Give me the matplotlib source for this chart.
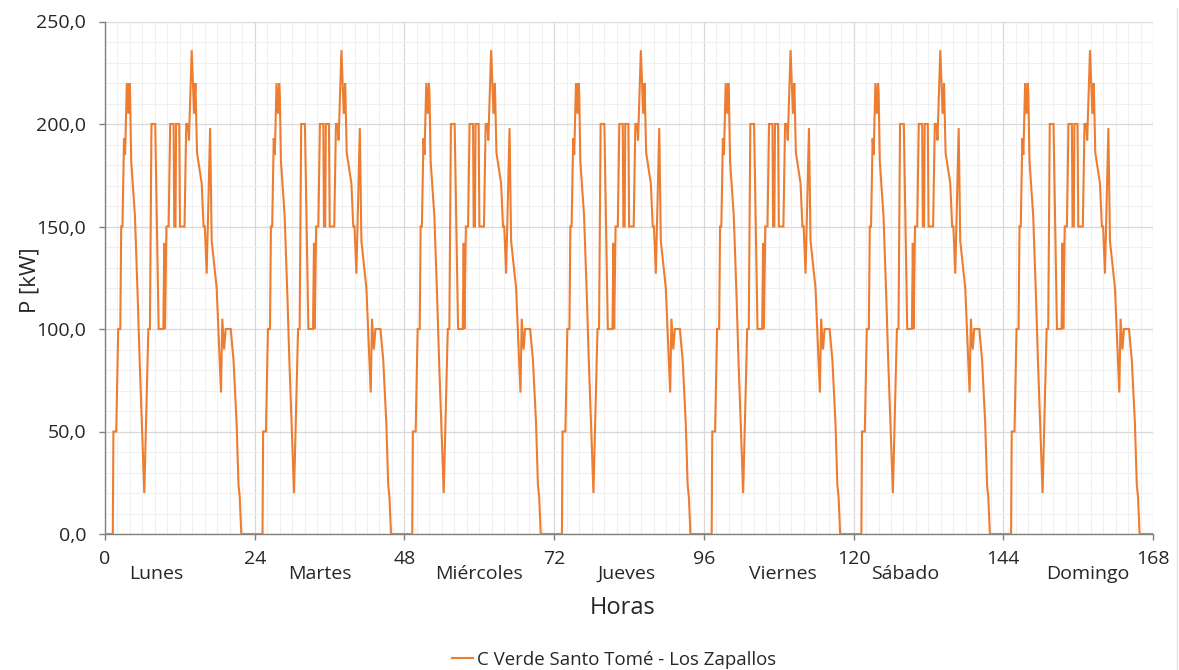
import matplotlib
matplotlib.use("Agg")
import matplotlib.pyplot as plt
import matplotlib.transforms as mtransforms
from matplotlib.lines import Line2D
from matplotlib.ticker import MultipleLocator, FuncFormatter
import numpy as np

# Daily load profile (hour of day, power in kW); the same profile repeats every day
day_hours = [0.0, 1.25, 1.35, 1.8, 2.12, 2.45, 2.6, 2.8, 3.05, 3.22, 3.5, 3.75, 3.92,
             4.02, 4.2, 4.8, 5.25, 5.55, 5.9, 6.3, 6.95, 7.2, 7.45, 8.05, 8.6, 9.35,
             9.5, 9.62, 9.85, 10.2, 10.45, 11.0, 11.1, 11.3, 11.4, 11.9, 12.02, 12.75,
             13.02, 13.3, 13.45, 13.9, 14.28, 14.5, 14.75, 15.5, 15.8, 16.0, 16.3,
             16.85, 17.1, 17.9, 18.6, 18.8, 19.1, 19.35, 20.15, 20.6, 21.1, 21.4,
             21.6, 21.85, 24.0]
day_power = [0, 0, 50, 50, 100, 100, 150, 150, 193, 185, 220, 205, 220,
             215, 182, 155, 115, 85, 55, 20, 100, 100, 200, 200, 100, 100,
             142, 100, 150, 150, 200, 200, 150, 150, 200, 200, 150, 150,
             200, 200, 192, 236, 205, 220, 186, 171, 150, 150, 127,
             198, 143, 120, 69, 105, 90, 100, 100, 85, 54, 24,
             18, 0, 0]

day_names = ["Lunes", "Martes", "Miércoles", "Jueves", "Viernes", "Sábado", "Domingo"]
day_label_hours = [8.2, 34.5, 60.0, 83.6, 108.6, 128.2, 157.5]
x_ticks = [0, 24, 48, 72, 96, 120, 144, 168]
series_name = "C Verde Santo Tomé - Los Zapallos"

n_days = len(day_names)
hours = np.concatenate([np.asarray(day_hours) + 24 * d for d in range(n_days)])
power = np.tile(np.asarray(day_power, dtype=float), n_days)

plt.rcParams['font.family'] = ['Open Sans', 'DejaVu Sans']

fig = plt.figure(figsize=(11.79, 6.70), dpi=100)
ax = fig.add_axes([105 / 1179, 1 - 534 / 670, (1153 - 105) / 1179, (534 - 21.5) / 670])

line_color = "#ED7D31"
ax.plot(hours, power, color=line_color, lw=1.5, solid_joinstyle="miter", zorder=3)

ax.set_xlim(0, 168)
ax.set_ylim(0, 250)
ax.set_xticks(x_ticks)
ax.xaxis.set_minor_locator(MultipleLocator(2))
ax.yaxis.set_major_locator(MultipleLocator(50))
ax.yaxis.set_minor_locator(MultipleLocator(10))
ax.yaxis.set_major_formatter(FuncFormatter(lambda v, p: f"{v:.1f}".replace(".", ",")))

ax.grid(which="major", color="#d9d9d9", lw=0.9, zorder=0)
ax.grid(which="minor", color="#f0f0f0", lw=0.8, zorder=0)
ax.set_axisbelow(True)

for side in ("top", "right"):
    ax.spines[side].set_visible(False)
for side in ("left", "bottom"):
    ax.spines[side].set_color("#808080")
    ax.spines[side].set_linewidth(1.0)

ax.tick_params(axis="both", which="major", length=4.5, width=1.0, color="#808080",
               labelsize=14, labelcolor="#262626")
ax.tick_params(axis="y", which="major", pad=9)
ax.tick_params(axis="x", which="major", pad=7)
ax.tick_params(which="minor", length=0)

# Weekday names under the axis
trans = mtransforms.blended_transform_factory(ax.transData, ax.transAxes)
for name, h in zip(day_names, day_label_hours):
    ax.text(h, -0.078, name, transform=trans, ha="center", va="center",
            fontsize=14, color="#262626")

fig.text(623 / 1179, 1 - 608 / 670, "Horas", ha="center", va="center",
         fontsize=17, color="#262626")
fig.text(30 / 1179, 1 - 280 / 670, "P [kW]", ha="center", va="center",
         rotation=90, fontsize=16, color="#262626")

legend_handle = Line2D([], [], color=line_color, lw=1.5)
fig.legend([legend_handle], [series_name], loc="center", bbox_to_anchor=(614 / 1179, 1 - 660 / 670),
           frameon=False, fontsize=13.4, handlelength=1.1, handletextpad=0.2,
           labelcolor="#262626")

# Chart area border on the right
fig.add_artist(Line2D([1176.5 / 1179, 1176.5 / 1179], [0, 1 - 8 / 670],
                      transform=fig.transFigure, color="#e3e3e3", lw=1.0))

fig.savefig("out.png", dpi=100)
